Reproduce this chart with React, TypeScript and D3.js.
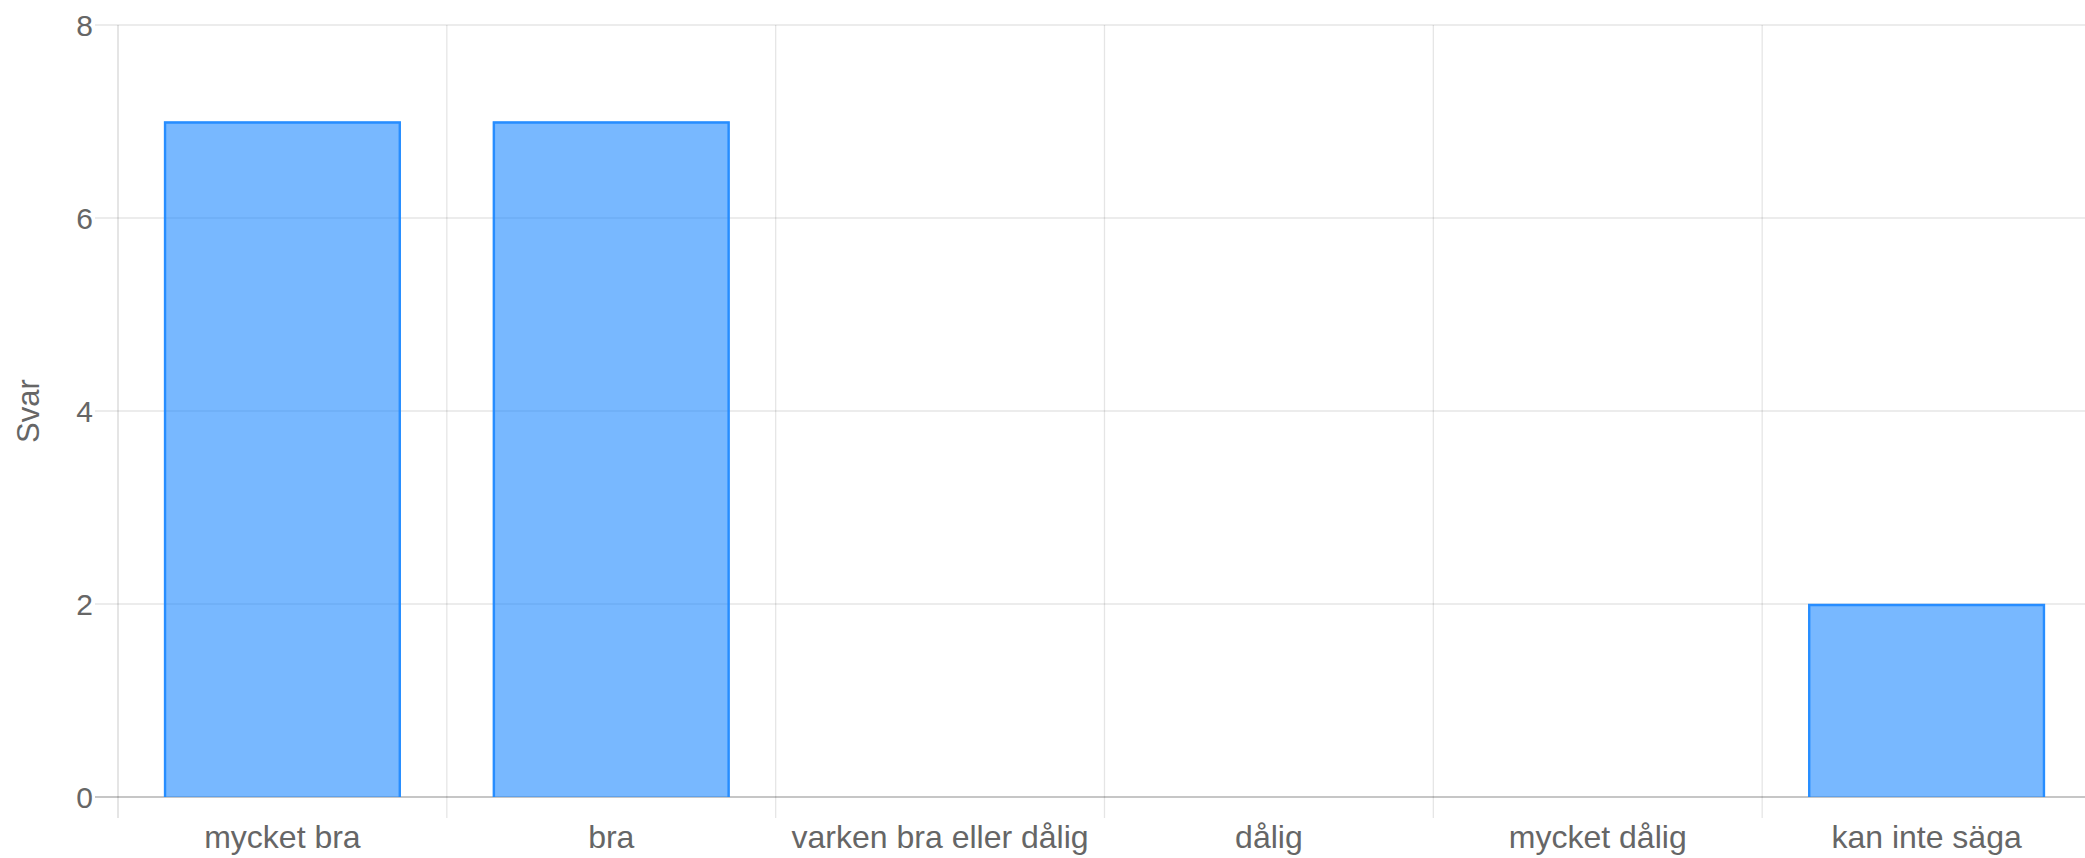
import React from "react";
import * as d3 from "d3";

const categories: string[] = [
  "mycket bra",
  "bra",
  "varken bra eller dålig",
  "dålig",
  "mycket dålig",
  "kan inte säga",
];
const values: number[] = [7, 7, 0, 0, 0, 2];
const yTicks: number[] = [0, 2, 4, 6, 8];
const yTitle = "Svar";

const W = 2085;
const H = 858;
const left = 118;
const right = 2091;
const top = 25;
const bottom = 797;
const font = "'Liberation Sans', Arial, Helvetica, sans-serif";
const textColor = "#666";

export default function App() {
  const x = d3.scaleBand<string>().domain(categories).range([left, right]).paddingInner(0).paddingOuter(0);
  const y = d3.scaleLinear().domain([0, 8]).range([bottom, top]);
  const bw = x.bandwidth();
  const barW = bw * 0.72;

  const boundaries = categories.map((c) => x(c) as number).concat([right]);

  return (
    <svg
      width={W}
      height={H}
      style={{ position: "absolute", left: 0, top: 0, display: "block", background: "#fff" }}
      fontFamily={font}
    >
      {/* horizontal grid lines */}
      {yTicks.map((t) => (
        <line
          key={"h" + t}
          x1={left - 23}
          x2={W}
          y1={y(t)}
          y2={y(t)}
          stroke={t === 0 ? "rgba(0,0,0,0.3)" : "rgba(0,0,0,0.1)"}
          strokeWidth={1.3}
        />
      ))}
      {/* vertical grid lines */}
      {boundaries.map((bx, i) => (
        <line
          key={"v" + i}
          x1={bx}
          x2={bx}
          y1={top}
          y2={bottom + 21}
          stroke={i === 0 ? "rgba(0,0,0,0.16)" : "rgba(0,0,0,0.1)"}
          strokeWidth={1.3}
        />
      ))}
      {/* bars */}
      {categories.map((c, i) => {
        const v = values[i];
        if (v <= 0) return null;
        const x0 = (x(c) as number) + (bw - barW) / 2;
        const x1 = x0 + barW;
        const yt = y(v);
        const yb = y(0);
        return (
          <g key={"b" + c}>
            <rect x={x0} y={yt} width={barW} height={yb - yt} fill="rgba(30,136,255,0.6)" />
            <path
              d={`M${x0 + 1},${yb} L${x0 + 1},${yt + 1} L${x1 - 1},${yt + 1} L${x1 - 1},${yb}`}
              fill="none"
              stroke="rgba(30,136,255,0.9)"
              strokeWidth={2.4}
            />
          </g>
        );
      })}
      {/* y tick labels */}
      {yTicks.map((t) => (
        <text
          key={"yt" + t}
          x={93}
          y={y(t)}
          dy="0.35em"
          textAnchor="end"
          fontSize={30}
          fill={textColor}
        >
          {t}
        </text>
      ))}
      {/* x labels */}
      {categories.map((c) => (
        <text
          key={"xl" + c}
          x={(x(c) as number) + bw / 2}
          y={848}
          textAnchor="middle"
          fontSize={32}
          fill={textColor}
        >
          {c}
        </text>
      ))}
      {/* y title */}
      <text
        transform={`translate(39,${(top + bottom) / 2}) rotate(-90)`}
        textAnchor="middle"
        fontSize={31}
        fill={textColor}
      >
        {yTitle}
      </text>
    </svg>
  );
}
